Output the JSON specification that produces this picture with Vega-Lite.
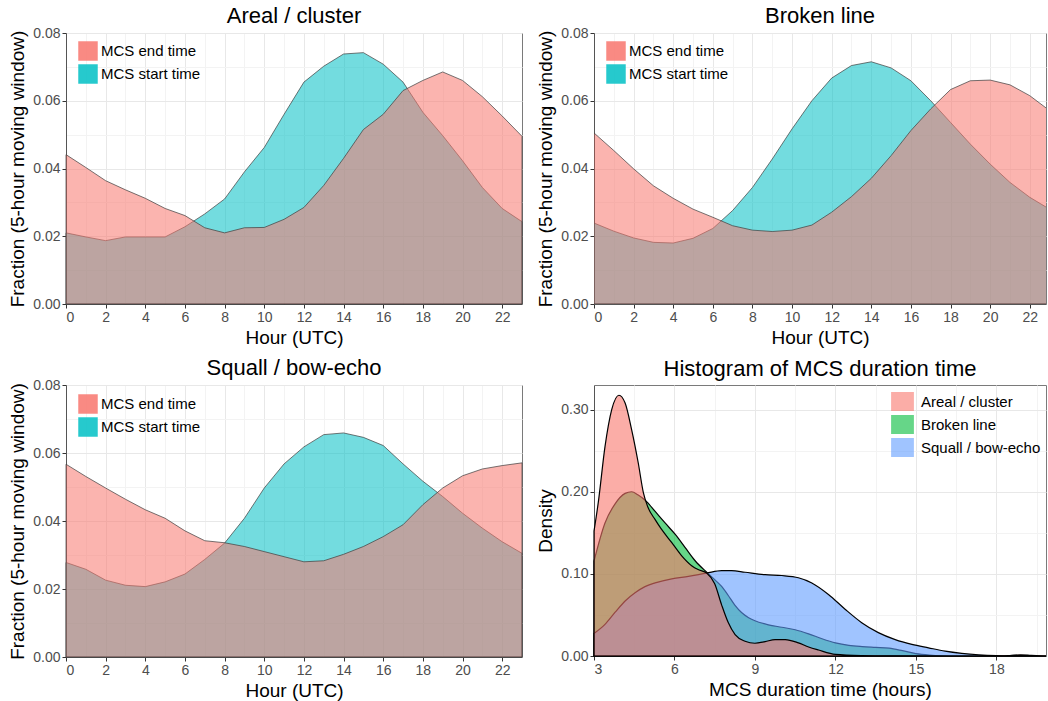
{
  "$schema": "https://vega.github.io/schema/vega-lite/v6.json",
  "background": "white",
  "padding": {"left": 8, "top": 4, "right": 0, "bottom": 0},
  "config": {
    "font": "Liberation Sans",
    "view": {"stroke": "#7a7a7a", "strokeWidth": 1},
    "axis": {
      "labelFont": "Liberation Sans", "labelFontSize": 14, "labelColor": "#4D4D4D",
      "titleFont": "Liberation Sans", "titleFontSize": 19, "titleFontWeight": "normal", "titleColor": "#000000",
      "tickColor": "#333333", "domainColor": "#555555", "tickSize": 4, "labelPadding": 2,
      "gridColor": "#EBEBEB"
    },
    "axisX": {"titlePadding": 4},
    "axisY": {"titlePadding": 5},
    "title": {"font": "Liberation Sans", "fontSize": 22, "fontWeight": "normal", "color": "#000000", "offset": -2, "frame": "group"},
    "legend": {"labelFont": "Liberation Sans", "labelFontSize": 15, "labelColor": "#000000"}
  },
  "datasets": {
    "hourly": [
      {"panel":"Areal / cluster","type":"MCS end time","hour":0,"value":0.0441},
      {"panel":"Areal / cluster","type":"MCS end time","hour":1,"value":0.0403},
      {"panel":"Areal / cluster","type":"MCS end time","hour":2,"value":0.0364},
      {"panel":"Areal / cluster","type":"MCS end time","hour":3,"value":0.0337},
      {"panel":"Areal / cluster","type":"MCS end time","hour":4,"value":0.0312},
      {"panel":"Areal / cluster","type":"MCS end time","hour":5,"value":0.0282},
      {"panel":"Areal / cluster","type":"MCS end time","hour":6,"value":0.0261},
      {"panel":"Areal / cluster","type":"MCS end time","hour":7,"value":0.0225},
      {"panel":"Areal / cluster","type":"MCS end time","hour":8,"value":0.0210},
      {"panel":"Areal / cluster","type":"MCS end time","hour":9,"value":0.0225},
      {"panel":"Areal / cluster","type":"MCS end time","hour":10,"value":0.0226},
      {"panel":"Areal / cluster","type":"MCS end time","hour":11,"value":0.0250},
      {"panel":"Areal / cluster","type":"MCS end time","hour":12,"value":0.0285},
      {"panel":"Areal / cluster","type":"MCS end time","hour":13,"value":0.0350},
      {"panel":"Areal / cluster","type":"MCS end time","hour":14,"value":0.0430},
      {"panel":"Areal / cluster","type":"MCS end time","hour":15,"value":0.0515},
      {"panel":"Areal / cluster","type":"MCS end time","hour":16,"value":0.0560},
      {"panel":"Areal / cluster","type":"MCS end time","hour":17,"value":0.0630},
      {"panel":"Areal / cluster","type":"MCS end time","hour":18,"value":0.0660},
      {"panel":"Areal / cluster","type":"MCS end time","hour":19,"value":0.0685},
      {"panel":"Areal / cluster","type":"MCS end time","hour":20,"value":0.0660},
      {"panel":"Areal / cluster","type":"MCS end time","hour":21,"value":0.0612},
      {"panel":"Areal / cluster","type":"MCS end time","hour":22,"value":0.0555},
      {"panel":"Areal / cluster","type":"MCS end time","hour":23,"value":0.0495},
      {"panel":"Areal / cluster","type":"MCS start time","hour":0,"value":0.0210},
      {"panel":"Areal / cluster","type":"MCS start time","hour":1,"value":0.0198},
      {"panel":"Areal / cluster","type":"MCS start time","hour":2,"value":0.0187},
      {"panel":"Areal / cluster","type":"MCS start time","hour":3,"value":0.0198},
      {"panel":"Areal / cluster","type":"MCS start time","hour":4,"value":0.0198},
      {"panel":"Areal / cluster","type":"MCS start time","hour":5,"value":0.0198},
      {"panel":"Areal / cluster","type":"MCS start time","hour":6,"value":0.0228},
      {"panel":"Areal / cluster","type":"MCS start time","hour":7,"value":0.0266},
      {"panel":"Areal / cluster","type":"MCS start time","hour":8,"value":0.0310},
      {"panel":"Areal / cluster","type":"MCS start time","hour":9,"value":0.0390},
      {"panel":"Areal / cluster","type":"MCS start time","hour":10,"value":0.0462},
      {"panel":"Areal / cluster","type":"MCS start time","hour":11,"value":0.0560},
      {"panel":"Areal / cluster","type":"MCS start time","hour":12,"value":0.0655},
      {"panel":"Areal / cluster","type":"MCS start time","hour":13,"value":0.0702},
      {"panel":"Areal / cluster","type":"MCS start time","hour":14,"value":0.0738},
      {"panel":"Areal / cluster","type":"MCS start time","hour":15,"value":0.0742},
      {"panel":"Areal / cluster","type":"MCS start time","hour":16,"value":0.0708},
      {"panel":"Areal / cluster","type":"MCS start time","hour":17,"value":0.0655},
      {"panel":"Areal / cluster","type":"MCS start time","hour":18,"value":0.0566},
      {"panel":"Areal / cluster","type":"MCS start time","hour":19,"value":0.0497},
      {"panel":"Areal / cluster","type":"MCS start time","hour":20,"value":0.0423},
      {"panel":"Areal / cluster","type":"MCS start time","hour":21,"value":0.0344},
      {"panel":"Areal / cluster","type":"MCS start time","hour":22,"value":0.0282},
      {"panel":"Areal / cluster","type":"MCS start time","hour":23,"value":0.0243},
      {"panel":"Broken line","type":"MCS end time","hour":0,"value":0.0505},
      {"panel":"Broken line","type":"MCS end time","hour":1,"value":0.0453},
      {"panel":"Broken line","type":"MCS end time","hour":2,"value":0.0399},
      {"panel":"Broken line","type":"MCS end time","hour":3,"value":0.0349},
      {"panel":"Broken line","type":"MCS end time","hour":4,"value":0.0312},
      {"panel":"Broken line","type":"MCS end time","hour":5,"value":0.0280},
      {"panel":"Broken line","type":"MCS end time","hour":6,"value":0.0256},
      {"panel":"Broken line","type":"MCS end time","hour":7,"value":0.0231},
      {"panel":"Broken line","type":"MCS end time","hour":8,"value":0.0218},
      {"panel":"Broken line","type":"MCS end time","hour":9,"value":0.0214},
      {"panel":"Broken line","type":"MCS end time","hour":10,"value":0.0218},
      {"panel":"Broken line","type":"MCS end time","hour":11,"value":0.0233},
      {"panel":"Broken line","type":"MCS end time","hour":12,"value":0.0271},
      {"panel":"Broken line","type":"MCS end time","hour":13,"value":0.0317},
      {"panel":"Broken line","type":"MCS end time","hour":14,"value":0.0371},
      {"panel":"Broken line","type":"MCS end time","hour":15,"value":0.0438},
      {"panel":"Broken line","type":"MCS end time","hour":16,"value":0.0512},
      {"panel":"Broken line","type":"MCS end time","hour":17,"value":0.0576},
      {"panel":"Broken line","type":"MCS end time","hour":18,"value":0.0633},
      {"panel":"Broken line","type":"MCS end time","hour":19,"value":0.0659},
      {"panel":"Broken line","type":"MCS end time","hour":20,"value":0.0661},
      {"panel":"Broken line","type":"MCS end time","hour":21,"value":0.0647},
      {"panel":"Broken line","type":"MCS end time","hour":22,"value":0.0615},
      {"panel":"Broken line","type":"MCS end time","hour":23,"value":0.0571},
      {"panel":"Broken line","type":"MCS start time","hour":0,"value":0.0239},
      {"panel":"Broken line","type":"MCS start time","hour":1,"value":0.0215},
      {"panel":"Broken line","type":"MCS start time","hour":2,"value":0.0195},
      {"panel":"Broken line","type":"MCS start time","hour":3,"value":0.0182},
      {"panel":"Broken line","type":"MCS start time","hour":4,"value":0.0180},
      {"panel":"Broken line","type":"MCS start time","hour":5,"value":0.0194},
      {"panel":"Broken line","type":"MCS start time","hour":6,"value":0.0223},
      {"panel":"Broken line","type":"MCS start time","hour":7,"value":0.0276},
      {"panel":"Broken line","type":"MCS start time","hour":8,"value":0.0344},
      {"panel":"Broken line","type":"MCS start time","hour":9,"value":0.0428},
      {"panel":"Broken line","type":"MCS start time","hour":10,"value":0.0517},
      {"panel":"Broken line","type":"MCS start time","hour":11,"value":0.0600},
      {"panel":"Broken line","type":"MCS start time","hour":12,"value":0.0667},
      {"panel":"Broken line","type":"MCS start time","hour":13,"value":0.0704},
      {"panel":"Broken line","type":"MCS start time","hour":14,"value":0.0715},
      {"panel":"Broken line","type":"MCS start time","hour":15,"value":0.0697},
      {"panel":"Broken line","type":"MCS start time","hour":16,"value":0.0659},
      {"panel":"Broken line","type":"MCS start time","hour":17,"value":0.0600},
      {"panel":"Broken line","type":"MCS start time","hour":18,"value":0.0536},
      {"panel":"Broken line","type":"MCS start time","hour":19,"value":0.0472},
      {"panel":"Broken line","type":"MCS start time","hour":20,"value":0.0413},
      {"panel":"Broken line","type":"MCS start time","hour":21,"value":0.0359},
      {"panel":"Broken line","type":"MCS start time","hour":22,"value":0.0315},
      {"panel":"Broken line","type":"MCS start time","hour":23,"value":0.0280},
      {"panel":"Squall / bow-echo","type":"MCS end time","hour":0,"value":0.0567},
      {"panel":"Squall / bow-echo","type":"MCS end time","hour":1,"value":0.0531},
      {"panel":"Squall / bow-echo","type":"MCS end time","hour":2,"value":0.0497},
      {"panel":"Squall / bow-echo","type":"MCS end time","hour":3,"value":0.0464},
      {"panel":"Squall / bow-echo","type":"MCS end time","hour":4,"value":0.0433},
      {"panel":"Squall / bow-echo","type":"MCS end time","hour":5,"value":0.0408},
      {"panel":"Squall / bow-echo","type":"MCS end time","hour":6,"value":0.0371},
      {"panel":"Squall / bow-echo","type":"MCS end time","hour":7,"value":0.0342},
      {"panel":"Squall / bow-echo","type":"MCS end time","hour":8,"value":0.0336},
      {"panel":"Squall / bow-echo","type":"MCS end time","hour":9,"value":0.0325},
      {"panel":"Squall / bow-echo","type":"MCS end time","hour":10,"value":0.0310},
      {"panel":"Squall / bow-echo","type":"MCS end time","hour":11,"value":0.0295},
      {"panel":"Squall / bow-echo","type":"MCS end time","hour":12,"value":0.0280},
      {"panel":"Squall / bow-echo","type":"MCS end time","hour":13,"value":0.0283},
      {"panel":"Squall / bow-echo","type":"MCS end time","hour":14,"value":0.0302},
      {"panel":"Squall / bow-echo","type":"MCS end time","hour":15,"value":0.0325},
      {"panel":"Squall / bow-echo","type":"MCS end time","hour":16,"value":0.0354},
      {"panel":"Squall / bow-echo","type":"MCS end time","hour":17,"value":0.0389},
      {"panel":"Squall / bow-echo","type":"MCS end time","hour":18,"value":0.0448},
      {"panel":"Squall / bow-echo","type":"MCS end time","hour":19,"value":0.0497},
      {"panel":"Squall / bow-echo","type":"MCS end time","hour":20,"value":0.0533},
      {"panel":"Squall / bow-echo","type":"MCS end time","hour":21,"value":0.0553},
      {"panel":"Squall / bow-echo","type":"MCS end time","hour":22,"value":0.0563},
      {"panel":"Squall / bow-echo","type":"MCS end time","hour":23,"value":0.0571},
      {"panel":"Squall / bow-echo","type":"MCS start time","hour":0,"value":0.0278},
      {"panel":"Squall / bow-echo","type":"MCS start time","hour":1,"value":0.0258},
      {"panel":"Squall / bow-echo","type":"MCS start time","hour":2,"value":0.0226},
      {"panel":"Squall / bow-echo","type":"MCS start time","hour":3,"value":0.0211},
      {"panel":"Squall / bow-echo","type":"MCS start time","hour":4,"value":0.0207},
      {"panel":"Squall / bow-echo","type":"MCS start time","hour":5,"value":0.0221},
      {"panel":"Squall / bow-echo","type":"MCS start time","hour":6,"value":0.0244},
      {"panel":"Squall / bow-echo","type":"MCS start time","hour":7,"value":0.0287},
      {"panel":"Squall / bow-echo","type":"MCS start time","hour":8,"value":0.0335},
      {"panel":"Squall / bow-echo","type":"MCS start time","hour":9,"value":0.0408},
      {"panel":"Squall / bow-echo","type":"MCS start time","hour":10,"value":0.0497},
      {"panel":"Squall / bow-echo","type":"MCS start time","hour":11,"value":0.0568},
      {"panel":"Squall / bow-echo","type":"MCS start time","hour":12,"value":0.0618},
      {"panel":"Squall / bow-echo","type":"MCS start time","hour":13,"value":0.0654},
      {"panel":"Squall / bow-echo","type":"MCS start time","hour":14,"value":0.0659},
      {"panel":"Squall / bow-echo","type":"MCS start time","hour":15,"value":0.0646},
      {"panel":"Squall / bow-echo","type":"MCS start time","hour":16,"value":0.0622},
      {"panel":"Squall / bow-echo","type":"MCS start time","hour":17,"value":0.0568},
      {"panel":"Squall / bow-echo","type":"MCS start time","hour":18,"value":0.0517},
      {"panel":"Squall / bow-echo","type":"MCS start time","hour":19,"value":0.0472},
      {"panel":"Squall / bow-echo","type":"MCS start time","hour":20,"value":0.0423},
      {"panel":"Squall / bow-echo","type":"MCS start time","hour":21,"value":0.0379},
      {"panel":"Squall / bow-echo","type":"MCS start time","hour":22,"value":0.0339},
      {"panel":"Squall / bow-echo","type":"MCS start time","hour":23,"value":0.0305}
    ],
    "density": [
      {"category":"Areal / cluster","duration":3.0,"density":0.152},
      {"category":"Areal / cluster","duration":3.16,"density":0.187},
      {"category":"Areal / cluster","duration":3.41,"density":0.255},
      {"category":"Areal / cluster","duration":3.66,"density":0.300},
      {"category":"Areal / cluster","duration":3.93,"density":0.3175},
      {"category":"Areal / cluster","duration":4.16,"density":0.308},
      {"category":"Areal / cluster","duration":4.40,"density":0.276},
      {"category":"Areal / cluster","duration":4.65,"density":0.235},
      {"category":"Areal / cluster","duration":4.84,"density":0.199},
      {"category":"Areal / cluster","duration":5.0,"density":0.182},
      {"category":"Areal / cluster","duration":5.28,"density":0.166},
      {"category":"Areal / cluster","duration":5.5,"density":0.155},
      {"category":"Areal / cluster","duration":5.9,"density":0.138},
      {"category":"Areal / cluster","duration":6.27,"density":0.122},
      {"category":"Areal / cluster","duration":6.64,"density":0.110},
      {"category":"Areal / cluster","duration":6.9,"density":0.105},
      {"category":"Areal / cluster","duration":7.2,"density":0.101},
      {"category":"Areal / cluster","duration":7.5,"density":0.088},
      {"category":"Areal / cluster","duration":7.76,"density":0.062},
      {"category":"Areal / cluster","duration":8.0,"density":0.041},
      {"category":"Areal / cluster","duration":8.26,"density":0.026},
      {"category":"Areal / cluster","duration":8.63,"density":0.018},
      {"category":"Areal / cluster","duration":9.0,"density":0.0155},
      {"category":"Areal / cluster","duration":9.38,"density":0.0175},
      {"category":"Areal / cluster","duration":9.75,"density":0.020},
      {"category":"Areal / cluster","duration":10.13,"density":0.020},
      {"category":"Areal / cluster","duration":10.62,"density":0.016},
      {"category":"Areal / cluster","duration":11.0,"density":0.011},
      {"category":"Areal / cluster","duration":11.37,"density":0.0073},
      {"category":"Areal / cluster","duration":12.0,"density":0.002},
      {"category":"Areal / cluster","duration":13.0,"density":0.0005},
      {"category":"Areal / cluster","duration":14.0,"density":0.0001},
      {"category":"Areal / cluster","duration":18.0,"density":0.0},
      {"category":"Areal / cluster","duration":18.5,"density":0.0006},
      {"category":"Areal / cluster","duration":18.9,"density":0.0014},
      {"category":"Areal / cluster","duration":19.3,"density":0.0008},
      {"category":"Areal / cluster","duration":19.85,"density":0.0},
      {"category":"Broken line","duration":3.0,"density":0.1156},
      {"category":"Broken line","duration":3.41,"density":0.162},
      {"category":"Broken line","duration":3.78,"density":0.185},
      {"category":"Broken line","duration":4.16,"density":0.198},
      {"category":"Broken line","duration":4.40,"density":0.200},
      {"category":"Broken line","duration":4.65,"density":0.196},
      {"category":"Broken line","duration":4.96,"density":0.188},
      {"category":"Broken line","duration":5.28,"density":0.176},
      {"category":"Broken line","duration":5.65,"density":0.162},
      {"category":"Broken line","duration":6.03,"density":0.148},
      {"category":"Broken line","duration":6.4,"density":0.132},
      {"category":"Broken line","duration":6.77,"density":0.116},
      {"category":"Broken line","duration":7.2,"density":0.102},
      {"category":"Broken line","duration":7.5,"density":0.093},
      {"category":"Broken line","duration":7.75,"density":0.085},
      {"category":"Broken line","duration":8.0,"density":0.074},
      {"category":"Broken line","duration":8.25,"density":0.062},
      {"category":"Broken line","duration":8.5,"density":0.053},
      {"category":"Broken line","duration":8.75,"density":0.047},
      {"category":"Broken line","duration":9.0,"density":0.043},
      {"category":"Broken line","duration":9.5,"density":0.038},
      {"category":"Broken line","duration":10.0,"density":0.035},
      {"category":"Broken line","duration":10.5,"density":0.032},
      {"category":"Broken line","duration":11.0,"density":0.027},
      {"category":"Broken line","duration":11.5,"density":0.021},
      {"category":"Broken line","duration":12.0,"density":0.016},
      {"category":"Broken line","duration":12.5,"density":0.013},
      {"category":"Broken line","duration":13.0,"density":0.0115},
      {"category":"Broken line","duration":13.5,"density":0.0105},
      {"category":"Broken line","duration":14.0,"density":0.0095},
      {"category":"Broken line","duration":14.5,"density":0.0065},
      {"category":"Broken line","duration":15.0,"density":0.003},
      {"category":"Broken line","duration":15.5,"density":0.0012},
      {"category":"Broken line","duration":16.0,"density":0.0003},
      {"category":"Broken line","duration":16.5,"density":0.0},
      {"category":"Broken line","duration":19.85,"density":0.0},
      {"category":"Squall / bow-echo","duration":3.0,"density":0.0275},
      {"category":"Squall / bow-echo","duration":3.41,"density":0.0386},
      {"category":"Squall / bow-echo","duration":3.78,"density":0.053},
      {"category":"Squall / bow-echo","duration":4.16,"density":0.067},
      {"category":"Squall / bow-echo","duration":4.53,"density":0.077},
      {"category":"Squall / bow-echo","duration":4.9,"density":0.0845},
      {"category":"Squall / bow-echo","duration":5.28,"density":0.089},
      {"category":"Squall / bow-echo","duration":5.9,"density":0.094},
      {"category":"Squall / bow-echo","duration":6.52,"density":0.097},
      {"category":"Squall / bow-echo","duration":7.2,"density":0.101},
      {"category":"Squall / bow-echo","duration":7.76,"density":0.104},
      {"category":"Squall / bow-echo","duration":8.13,"density":0.104},
      {"category":"Squall / bow-echo","duration":8.63,"density":0.102},
      {"category":"Squall / bow-echo","duration":9.38,"density":0.099},
      {"category":"Squall / bow-echo","duration":10.0,"density":0.098},
      {"category":"Squall / bow-echo","duration":10.62,"density":0.0953},
      {"category":"Squall / bow-echo","duration":11.12,"density":0.089},
      {"category":"Squall / bow-echo","duration":11.74,"density":0.075},
      {"category":"Squall / bow-echo","duration":12.36,"density":0.057},
      {"category":"Squall / bow-echo","duration":12.98,"density":0.0406},
      {"category":"Squall / bow-echo","duration":13.6,"density":0.0285},
      {"category":"Squall / bow-echo","duration":14.23,"density":0.020},
      {"category":"Squall / bow-echo","duration":14.85,"density":0.0142},
      {"category":"Squall / bow-echo","duration":15.47,"density":0.010},
      {"category":"Squall / bow-echo","duration":16.09,"density":0.006},
      {"category":"Squall / bow-echo","duration":16.71,"density":0.0033},
      {"category":"Squall / bow-echo","duration":17.34,"density":0.0015},
      {"category":"Squall / bow-echo","duration":18.0,"density":0.0004},
      {"category":"Squall / bow-echo","duration":18.6,"density":0.0},
      {"category":"Squall / bow-echo","duration":19.85,"density":0.0}
    ]
  },
  "columns": 2,
  "spacing": {"row": 8, "column": 11},
  "resolve": {"scale": {"color": "independent", "x": "independent", "y": "independent"}, "legend": {"color": "independent"}},
  "concat": [
    {
      "width": 456, "height": 271,
      "title": "Areal / cluster",
      "data": {"name": "hourly"},
      "transform": [{"filter": "datum.panel === 'Areal / cluster'"}],
      "encoding": {
        "x": {"field": "hour", "type": "quantitative", "title": "Hour (UTC)",
              "scale": {"domain": [0, 23], "nice": false, "zero": false},
              "axis": {"values": [0,1,2,3,4,5,6,7,8,9,10,11,12,13,14,15,16,17,18,19,20,21,22], "format": "d",
                       "labelExpr": "datum.value % 2 === 0 ? datum.label : ''",
                       "tickOpacity": {"condition": {"test": "datum.value % 2 === 0", "value": 1}, "value": 0},
                       "gridColor": {"condition": {"test": "datum.value % 2 === 0", "value": "#E8E8E8"}, "value": "#F3F3F3"}}},
        "y": {"field": "value", "type": "quantitative", "title": "Fraction (5-hour moving window)",
              "scale": {"domain": [0, 0.08], "nice": false},
              "axis": {"values": [0,0.01,0.02,0.03,0.04,0.05,0.06,0.07,0.08], "format": ".2f",
                       "labelExpr": "round(datum.value*100) % 2 === 0 ? datum.label : ''",
                       "tickOpacity": {"condition": {"test": "round(datum.value*100) % 2 === 0", "value": 1}, "value": 0},
                       "gridColor": {"condition": {"test": "round(datum.value*100) % 2 === 0", "value": "#E8E8E8"}, "value": "#F3F3F3"}}},
        "color": {"field": "type", "type": "nominal",
                  "scale": {"domain": ["MCS end time", "MCS start time"], "range": ["#F8766D", "#00BFC4"]},
                  "legend": {"title": null, "orient": "none", "legendX": 12, "legendY": 8, "padding": 0,
                             "symbolType": "square", "symbolSize": 380, "symbolOpacity": 0.85, "symbolStrokeWidth": 0,
                             "labelOffset": 3, "rowPadding": 3}}
      },
      "layer": [
        {"transform": [{"filter": "datum.type === 'MCS start time'"}],
         "mark": {"type": "area", "fillOpacity": 0.55, "stroke": "#404040", "strokeWidth": 0.8, "strokeOpacity": 0.9}},
        {"transform": [{"filter": "datum.type === 'MCS end time'"}],
         "mark": {"type": "area", "fillOpacity": 0.55, "stroke": "#404040", "strokeWidth": 0.8, "strokeOpacity": 0.9}}
      ]
    },
    {
      "width": 452, "height": 271,
      "title": "Broken line",
      "data": {"name": "hourly"},
      "transform": [{"filter": "datum.panel === 'Broken line'"}],
      "encoding": {
        "x": {"field": "hour", "type": "quantitative", "title": "Hour (UTC)",
              "scale": {"domain": [0, 22.82], "nice": false, "zero": false},
              "axis": {"values": [0,1,2,3,4,5,6,7,8,9,10,11,12,13,14,15,16,17,18,19,20,21,22], "format": "d",
                       "labelExpr": "datum.value % 2 === 0 ? datum.label : ''",
                       "tickOpacity": {"condition": {"test": "datum.value % 2 === 0", "value": 1}, "value": 0},
                       "gridColor": {"condition": {"test": "datum.value % 2 === 0", "value": "#E8E8E8"}, "value": "#F3F3F3"}}},
        "y": {"field": "value", "type": "quantitative", "title": "Fraction (5-hour moving window)",
              "scale": {"domain": [0, 0.08], "nice": false},
              "axis": {"values": [0,0.01,0.02,0.03,0.04,0.05,0.06,0.07,0.08], "format": ".2f",
                       "labelExpr": "round(datum.value*100) % 2 === 0 ? datum.label : ''",
                       "tickOpacity": {"condition": {"test": "round(datum.value*100) % 2 === 0", "value": 1}, "value": 0},
                       "gridColor": {"condition": {"test": "round(datum.value*100) % 2 === 0", "value": "#E8E8E8"}, "value": "#F3F3F3"}}},
        "color": {"field": "type", "type": "nominal",
                  "scale": {"domain": ["MCS end time", "MCS start time"], "range": ["#F8766D", "#00BFC4"]},
                  "legend": {"title": null, "orient": "none", "legendX": 12, "legendY": 8, "padding": 0,
                             "symbolType": "square", "symbolSize": 380, "symbolOpacity": 0.85, "symbolStrokeWidth": 0,
                             "labelOffset": 3, "rowPadding": 3}}
      },
      "layer": [
        {"transform": [{"filter": "datum.type === 'MCS start time'"}],
         "mark": {"type": "area", "clip": true, "fillOpacity": 0.55, "stroke": "#404040", "strokeWidth": 0.8, "strokeOpacity": 0.9}},
        {"transform": [{"filter": "datum.type === 'MCS end time'"}],
         "mark": {"type": "area", "clip": true, "fillOpacity": 0.55, "stroke": "#404040", "strokeWidth": 0.8, "strokeOpacity": 0.9}}
      ]
    },
    {
      "width": 456, "height": 272,
      "title": "Squall / bow-echo",
      "data": {"name": "hourly"},
      "transform": [{"filter": "datum.panel === 'Squall / bow-echo'"}],
      "encoding": {
        "x": {"field": "hour", "type": "quantitative", "title": "Hour (UTC)",
              "scale": {"domain": [0, 23], "nice": false, "zero": false},
              "axis": {"values": [0,1,2,3,4,5,6,7,8,9,10,11,12,13,14,15,16,17,18,19,20,21,22], "format": "d",
                       "labelExpr": "datum.value % 2 === 0 ? datum.label : ''",
                       "tickOpacity": {"condition": {"test": "datum.value % 2 === 0", "value": 1}, "value": 0},
                       "gridColor": {"condition": {"test": "datum.value % 2 === 0", "value": "#E8E8E8"}, "value": "#F3F3F3"}}},
        "y": {"field": "value", "type": "quantitative", "title": "Fraction (5-hour moving window)",
              "scale": {"domain": [0, 0.08], "nice": false},
              "axis": {"values": [0,0.01,0.02,0.03,0.04,0.05,0.06,0.07,0.08], "format": ".2f",
                       "labelExpr": "round(datum.value*100) % 2 === 0 ? datum.label : ''",
                       "tickOpacity": {"condition": {"test": "round(datum.value*100) % 2 === 0", "value": 1}, "value": 0},
                       "gridColor": {"condition": {"test": "round(datum.value*100) % 2 === 0", "value": "#E8E8E8"}, "value": "#F3F3F3"}}},
        "color": {"field": "type", "type": "nominal",
                  "scale": {"domain": ["MCS end time", "MCS start time"], "range": ["#F8766D", "#00BFC4"]},
                  "legend": {"title": null, "orient": "none", "legendX": 12, "legendY": 9, "padding": 0,
                             "symbolType": "square", "symbolSize": 380, "symbolOpacity": 0.85, "symbolStrokeWidth": 0,
                             "labelOffset": 3, "rowPadding": 3}}
      },
      "layer": [
        {"transform": [{"filter": "datum.type === 'MCS start time'"}],
         "mark": {"type": "area", "fillOpacity": 0.55, "stroke": "#404040", "strokeWidth": 0.8, "strokeOpacity": 0.9}},
        {"transform": [{"filter": "datum.type === 'MCS end time'"}],
         "mark": {"type": "area", "fillOpacity": 0.55, "stroke": "#404040", "strokeWidth": 0.8, "strokeOpacity": 0.9}}
      ]
    },
    {
      "width": 452, "height": 271,
      "title": {"text": "Histogram of MCS duration time", "offset": 4},
      "data": {"name": "density"},
      "encoding": {
        "x": {"field": "duration", "type": "quantitative", "title": "MCS duration time (hours)",
              "scale": {"domain": [3, 19.85], "nice": false, "zero": false},
              "axis": {"values": [3,4.5,6,7.5,9,10.5,12,13.5,15,16.5,18,19.5], "format": "d",
                       "labelExpr": "datum.value % 3 === 0 ? datum.label : ''",
                       "tickOpacity": {"condition": {"test": "datum.value % 3 === 0", "value": 1}, "value": 0},
                       "gridColor": {"condition": {"test": "datum.value % 3 === 0", "value": "#E8E8E8"}, "value": "#F3F3F3"}}},
        "y": {"field": "density", "type": "quantitative", "title": "Density",
              "scale": {"domain": [0, 0.33], "nice": false},
              "axis": {"values": [0,0.05,0.1,0.15,0.2,0.25,0.3], "format": ".2f",
                       "labelExpr": "round(datum.value*100) % 10 === 0 ? datum.label : ''",
                       "tickOpacity": {"condition": {"test": "round(datum.value*100) % 10 === 0", "value": 1}, "value": 0},
                       "gridColor": {"condition": {"test": "round(datum.value*100) % 10 === 0", "value": "#E8E8E8"}, "value": "#F3F3F3"}}},
        "color": {"field": "category", "type": "nominal",
                  "scale": {"domain": ["Areal / cluster", "Broken line", "Squall / bow-echo"], "range": ["#F8766D", "#00BA38", "#619CFF"]},
                  "legend": {"title": null, "orient": "none", "legendX": 299, "legendY": 7, "padding": 0,
                             "symbolType": "M-1.2,-1H1.2V1H-1.2Z", "symbolSize": 361, "symbolOpacity": 0.6, "symbolStrokeWidth": 0,
                             "labelOffset": 9, "rowPadding": 4}}
      },
      "layer": [
        {"transform": [{"filter": "datum.category === 'Broken line'"}],
         "mark": {"type": "area", "interpolate": "monotone", "fillOpacity": 0.6, "stroke": "#000000", "strokeWidth": 1.2}},
        {"transform": [{"filter": "datum.category === 'Squall / bow-echo'"}],
         "mark": {"type": "area", "interpolate": "monotone", "fillOpacity": 0.6, "stroke": "#000000", "strokeWidth": 1.2}},
        {"transform": [{"filter": "datum.category === 'Areal / cluster'"}],
         "mark": {"type": "area", "interpolate": "monotone", "fillOpacity": 0.6, "stroke": "#000000", "strokeWidth": 1.2}}
      ]
    }
  ]
}
